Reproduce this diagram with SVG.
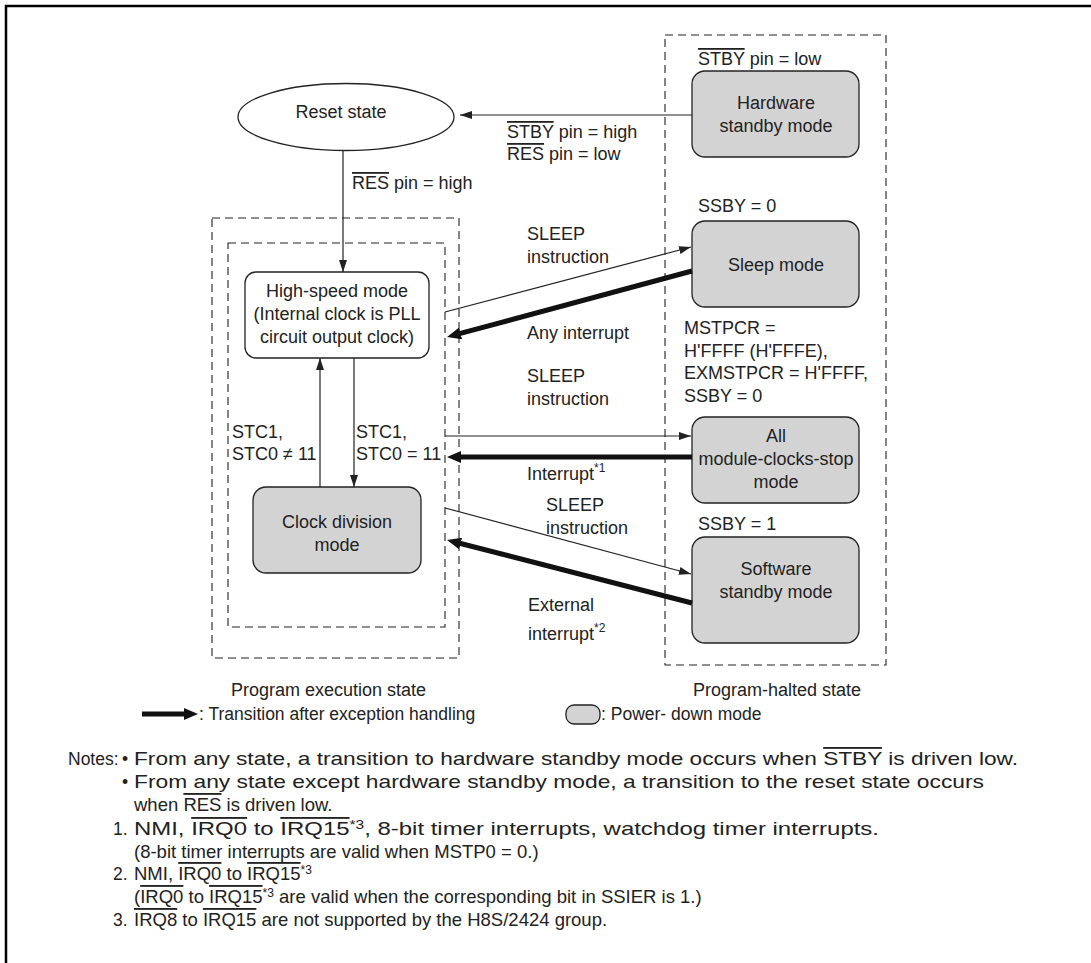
<svg xmlns="http://www.w3.org/2000/svg" width="1091" height="963" viewBox="0 0 1091 963">
<defs>
<style>
text{font-family:"Liberation Sans",Arial,sans-serif;font-size:18px;fill:#222}
.c{text-anchor:middle}
.n{font-size:17.5px}
.m{font-size:18.5px}
.ol{text-decoration:overline}
.sup{font-size:12px}
.dash{fill:none;stroke:#222;stroke-width:1.1;stroke-dasharray:8,5}
.pd{fill:#d3d3d3;stroke:#222;stroke-width:1.3}
.wb{fill:#fff;stroke:#222;stroke-width:1.3}
.thin{stroke:#222;stroke-width:1.2;fill:none;marker-end:url(#ah)}
.thick{stroke:#111;stroke-width:5;fill:none;marker-end:url(#ahb)}
</style>
<marker id="ah" markerUnits="userSpaceOnUse" markerWidth="13" markerHeight="9" refX="12" refY="4" orient="auto"><path d="M0,0 L12,4 L0,8 z" fill="#222"/></marker>
<marker id="ahb" markerUnits="userSpaceOnUse" markerWidth="16" markerHeight="12" refX="4" refY="6" orient="auto"><path d="M0,0 L14,6 L0,12 z" fill="#111"/></marker>
</defs>
<rect width="1091" height="963" fill="#fff"/>
<path d="M6,963 L6,6 L1091,6" fill="none" stroke="#000" stroke-width="2.5"/>

<g id="regions">
<rect class="dash" x="665" y="35" width="221" height="630"/>
<rect class="dash" x="212" y="218" width="247" height="440"/>
<rect class="dash" x="228" y="243" width="217" height="384"/>
<text x="231" y="696">Program execution state</text>
<text x="693" y="696">Program-halted state</text>
</g>

<g id="reset">
<ellipse cx="346" cy="117" rx="108" ry="33.5" fill="#fff" stroke="#222" stroke-width="1.3"/>
<text class="c" x="341" y="118">Reset state</text>
</g>

<g id="hwstandby">
<text x="698" y="65"><tspan class="ol">STBY</tspan> pin = low</text>
<rect class="pd" x="692" y="71" width="167" height="86" rx="13"/>
<text class="c" x="776" y="109">Hardware</text>
<text class="c" x="776" y="132">standby mode</text>
</g>

<g id="sleep">
<text x="698" y="212">SSBY = 0</text>
<rect class="pd" x="692" y="221" width="167" height="86" rx="13"/>
<text class="c" x="776" y="271">Sleep mode</text>
</g>

<g id="allmodule">
<text x="684" y="334">MSTPCR =</text>
<text x="684" y="357">H'FFFF (H'FFFE),</text>
<text x="684" y="379">EXMSTPCR = H'FFFF,</text>
<text x="684" y="402">SSBY = 0</text>
<rect class="pd" x="692" y="417" width="167" height="86" rx="13"/>
<text class="c" x="776" y="442">All</text>
<text class="c" x="776" y="465">module-clocks-stop</text>
<text class="c" x="776" y="488">mode</text>
</g>

<g id="swstandby">
<text x="698" y="530">SSBY = 1</text>
<rect class="pd" x="692" y="537" width="167" height="106" rx="13"/>
<text class="c" x="776" y="575">Software</text>
<text class="c" x="776" y="598">standby mode</text>
</g>

<g id="highspeed">
<rect class="wb" x="245" y="272" width="184" height="86" rx="11"/>
<text class="c" x="337" y="297">High-speed mode</text>
<text class="c" x="337" y="320">(Internal clock is PLL</text>
<text class="c" x="337" y="343">circuit output clock)</text>
</g>

<g id="clockdiv">
<rect class="pd" x="253" y="487" width="168" height="86" rx="13"/>
<text class="c" x="337" y="528">Clock division</text>
<text class="c" x="337" y="551">mode</text>
</g>

<g id="connectors">
<line class="thin" x1="692" y1="115" x2="460" y2="115"/>
<line class="thin" x1="343" y1="151" x2="343" y2="272"/>
<line class="thin" x1="320" y1="487" x2="320" y2="358"/>
<line class="thin" x1="354" y1="358" x2="354" y2="487"/>
<line class="thin" x1="445" y1="312" x2="691" y2="247"/>
<line class="thick" x1="692" y1="271" x2="456.7" y2="334.4"/>
<line class="thin" x1="445" y1="436" x2="691" y2="436"/>
<line class="thick" x1="692" y1="457" x2="457" y2="457"/>
<line class="thin" x1="445" y1="508" x2="691" y2="574"/>
<line class="thick" x1="692" y1="603" x2="456.7" y2="542.5"/>
</g>

<g id="labels">
<text x="507" y="138"><tspan class="ol">STBY</tspan> pin = high</text>
<text x="507" y="160"><tspan class="ol">RES</tspan> pin = low</text>
<text x="352" y="189"><tspan class="ol">RES</tspan> pin = high</text>
<text x="527" y="240">SLEEP</text>
<text x="527" y="263">instruction</text>
<text x="527" y="339">Any interrupt</text>
<text x="527" y="382">SLEEP</text>
<text x="527" y="405">instruction</text>
<text x="232" y="438">STC1,</text>
<text x="232" y="460">STC0 ≠ 11</text>
<text x="356" y="438">STC1,</text>
<text x="356" y="460">STC0 = 11</text>
<text x="527" y="480">Interrupt<tspan class="sup" dy="-8">*1</tspan></text>
<text x="546" y="511">SLEEP</text>
<text x="546" y="534">instruction</text>
<text x="528" y="611">External</text>
<text x="528" y="640">interrupt<tspan class="sup" dy="-8">*2</tspan></text>
</g>

<g id="legend">
<line x1="142" y1="714" x2="188" y2="714" stroke="#111" stroke-width="5" marker-end="url(#ahb)"/>
<text class="n" x="199" y="720">: Transition after exception handling</text>
<rect class="pd" x="566" y="705" width="34" height="19" rx="8"/>
<text class="n" x="601" y="720">: Power- down mode</text>
</g>

<g id="notes">
<text class="n" x="68" y="765">Notes:</text>
<text class="n" x="122" y="765">•</text>
<text class="m" x="134" y="765" textLength="884" lengthAdjust="spacingAndGlyphs">From any state, a transition to hardware standby mode occurs when <tspan class="ol">STBY</tspan> is driven low.</text>
<text class="n" x="122" y="788">•</text>
<text class="m" x="134" y="788" textLength="850" lengthAdjust="spacingAndGlyphs">From any state except hardware standby mode, a transition to the reset state occurs</text>
<text class="m" x="134" y="811">when <tspan class="ol">RES</tspan> is driven low.</text>
<text class="n" x="113" y="835">1.</text>
<text class="m" x="134" y="835" textLength="745" lengthAdjust="spacingAndGlyphs">NMI, <tspan class="ol">IRQ0</tspan> to <tspan class="ol">IRQ15</tspan><tspan class="sup" dy="-6">*3</tspan><tspan dy="6">, 8-bit timer interrupts, watchdog timer interrupts.</tspan></text>
<text class="m" x="134" y="858">(8-bit timer interrupts are valid when MSTP0 = 0.)</text>
<text class="n" x="113" y="880">2.</text>
<text class="m" x="134" y="880">NMI, <tspan class="ol">IRQ0</tspan> to <tspan class="ol">IRQ15</tspan><tspan class="sup" dy="-6">*3</tspan></text>
<text class="m" x="134" y="903">(<tspan class="ol">IRQ0</tspan> to <tspan class="ol">IRQ15</tspan><tspan class="sup" dy="-6">*3</tspan><tspan dy="6"> are valid when the corresponding bit in SSIER is 1.)</tspan></text>
<text class="n" x="113" y="926">3.</text>
<text class="m" x="134" y="926"><tspan class="ol">IRQ8</tspan> to <tspan class="ol">IRQ15</tspan> are not supported by the H8S/2424 group.</text>
</g>
</svg>
